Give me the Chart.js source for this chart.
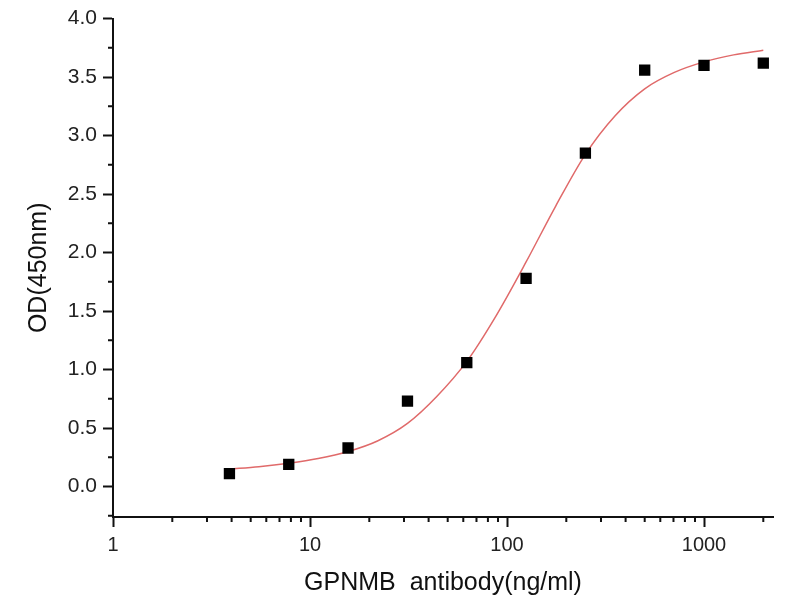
<!DOCTYPE html>
<html>
<head>
<meta charset="utf-8">
<script src="https://cdn.jsdelivr.net/npm/chart.js@4/dist/chart.umd.min.js"></script>
<style>
  body { margin: 0; background: #fff; }
</style>
</head>
<body>
<canvas id="odChart" width="800" height="600"></canvas>
<script>
// measured points (ng/ml vs OD450)
const concentrations = [3.9, 7.8, 15.6, 31.25, 62.5, 125, 250, 500, 1000, 2000];
const odValues = [0.11, 0.19, 0.33, 0.73, 1.06, 1.78, 2.85, 3.56, 3.60, 3.62];

// fitted curve
const fitX = [3.9, 5.5, 7.8, 11, 15.6, 22, 31.25, 44, 62.5, 88, 125, 177, 250, 354, 500, 707, 1000, 1414, 2000];
const fitY = [0.15, 0.17, 0.20, 0.24, 0.30, 0.39, 0.54, 0.77, 1.07, 1.46, 1.92, 2.40, 2.84, 3.17, 3.40, 3.54, 3.63, 3.69, 3.73];

// tick labels
const xMajorTicks = [1, 10, 100, 1000];
const xMinorTicks = [2, 3, 4, 5, 6, 7, 8, 9, 20, 30, 40, 50, 60, 70, 80, 90, 200, 300, 400, 500, 600, 700, 800, 900, 2000];
const yMajorTicks = [0.0, 0.5, 1.0, 1.5, 2.0, 2.5, 3.0, 3.5, 4.0];
const yMinorTicks = [-0.25, 0.25, 0.75, 1.25, 1.75, 2.25, 2.75, 3.25, 3.75];

const FONT = '"Liberation Sans", Arial, sans-serif';

// small outward minor ticks, like Origin draws them
const minorTicks = {
  id: 'minorTicks',
  afterDraw(chart) {
    const ctx = chart.ctx;
    const x = chart.scales.x;
    const y = chart.scales.y;
    const area = chart.chartArea;
    ctx.save();
    ctx.strokeStyle = '#111';
    ctx.lineWidth = 2;
    ctx.beginPath();
    xMinorTicks.forEach(v => {
      const px = x.getPixelForValue(v);
      ctx.moveTo(px, area.bottom);
      ctx.lineTo(px, area.bottom + 5);
    });
    yMinorTicks.forEach(v => {
      const py = y.getPixelForValue(v);
      ctx.moveTo(area.left, py);
      ctx.lineTo(area.left - 5, py);
    });
    ctx.stroke();
    ctx.restore();
  }
};

new Chart(document.getElementById('odChart'), {
  type: 'scatter',
  data: {
    datasets: [
      {
        label: 'OD',
        data: concentrations.map((c, i) => ({ x: c, y: odValues[i] })),
        pointStyle: 'rect',
        pointRadius: 8,
        pointHoverRadius: 8,
        backgroundColor: '#000',
        borderColor: '#000',
        borderWidth: 0,
        showLine: false
      },
      {
        label: 'Fit',
        type: 'line',
        data: fitX.map((c, i) => ({ x: c, y: fitY[i] })),
        borderColor: '#e06a6a',
        borderWidth: 1.5,
        pointRadius: 0,
        cubicInterpolationMode: 'monotone',
        fill: false
      }
    ]
  },
  options: {
    responsive: false,
    animation: false,
    layout: { padding: { left: 0, top: 13, right: 27, bottom: 0 } },
    plugins: {
      legend: { display: false },
      tooltip: { enabled: false }
    },
    scales: {
      x: {
        type: 'logarithmic',
        min: 1,
        max: 2240,
        afterBuildTicks: s => { s.ticks = xMajorTicks.map(v => ({ value: v })); },
        afterFit: s => { s.height = 83; },
        ticks: {
          autoSkip: false,
          maxRotation: 0,
          padding: 6,
          color: '#222',
          font: { family: FONT, size: 20 },
          callback: v => String(v)
        },
        grid: {
          drawOnChartArea: false,
          drawTicks: true,
          tickLength: 10,
          tickWidth: 2,
          tickColor: '#111'
        },
        border: { display: true, color: '#111', width: 2 },
        title: {
          display: true,
          text: 'GPNMB  antibody(ng/ml)',
          color: '#111',
          font: { family: FONT, size: 25 },
          padding: { top: 0, bottom: 2 }
        }
      },
      y: {
        min: -0.26,
        max: 4.0,
        afterBuildTicks: s => { s.ticks = yMajorTicks.map(v => ({ value: v })); },
        afterFit: s => { s.width = 113; },
        ticks: {
          autoSkip: false,
          padding: 6,
          color: '#222',
          font: { family: FONT, size: 21 },
          callback: v => v.toFixed(1)
        },
        grid: {
          drawOnChartArea: false,
          drawTicks: true,
          tickLength: 10,
          tickWidth: 2,
          tickColor: '#111'
        },
        border: { display: true, color: '#111', width: 2 },
        title: {
          display: true,
          text: 'OD(450nm)',
          color: '#111',
          font: { family: FONT, size: 25 },
          padding: { top: 24, bottom: 0 }
        }
      }
    }
  },
  plugins: [minorTicks]
});
</script>
</body>
</html>
